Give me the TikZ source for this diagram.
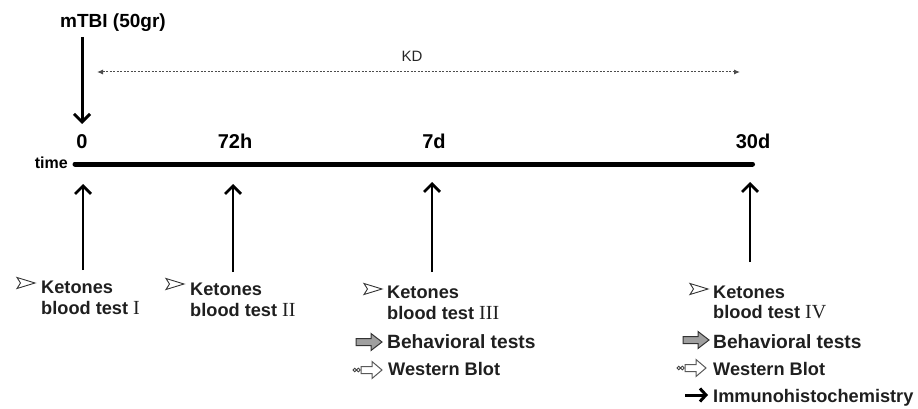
\documentclass[tikz,border=0pt]{standalone}
\usepackage{fontspec}
\setmainfont{Liberation Sans}
\newfontfamily\rmnum{Liberation Serif}
\usetikzlibrary{arrows.meta}
\newcommand{\rn}[1]{{\rmnum\mdseries\fontsize{20}{20}\selectfont #1}}
\begin{document}
\begin{tikzpicture}[x=1pt,y=-1pt,
  txt/.style={font=\fontsize{18.2}{18}\selectfont\bfseries, anchor=base west, inner sep=0pt, text=black!88},
  bigtxt/.style={font=\fontsize{19.2}{18}\selectfont\bfseries, anchor=base west, inner sep=0pt, text=black!88},
  tick/.style={font=\fontsize{20}{20}\selectfont\bfseries, anchor=base, inner sep=0pt},
  uparrow/.style={line width=2.8pt, -{Straight Barb[length=8pt,width=16pt]}},
  downarrow/.style={line width=3pt, -{Straight Barb[length=8pt,width=16pt]}},
  tri/.pic={\draw[line width=0.9pt, black!80, line join=miter] (0,-5.5)--(18,0)--(0,5.5)--(3.5,0)--cycle;},
  bharrow/.pic={\draw[fill=gray!75, draw=black!80, line width=1pt, line join=miter]
      (0,-3.5)--(15,-3.5)--(15,-8.5)--(26,0)--(15,8.5)--(15,3.5)--(0,3.5)--cycle;},
  wbarrow/.pic={\draw[black!75, line width=0.9pt] (1.8,0) circle (1.8) (5.4,0) circle (1.8);
      \draw[fill=white, draw=black!65, line width=1pt, line join=miter]
      (8,-3.5)--(19,-3.5)--(19,-8.5)--(29,0)--(19,8.5)--(19,3.5)--(8,3.5)--cycle;}
]
\useasboundingbox (0,0) rectangle (918,409);

% top label and impact arrow
\node[tick, font=\fontsize{19}{18}\selectfont\bfseries] (mtbi) at (113,28) {mTBI (50gr)};
\coordinate (ds) at (82,37);
\coordinate (de) at (82,124);
\draw[downarrow] (ds) -- (de);

% KD period
\node[anchor=base, inner sep=0pt, font=\fontsize{15}{15}\selectfont, text=black!85] (kd) at (412,62) {KD};
\coordinate (kdl) at (97,72);
\coordinate (kdr) at (740,72);
\draw[black!70, line width=1pt, dash pattern=on 2pt off 1.5pt,
  {Latex[length=6pt,width=5pt]}-{Latex[length=6pt,width=5pt]}] (kdl) -- (kdr);

% timeline
\node[anchor=base east, inner sep=0pt, font=\fontsize{16}{16}\selectfont\bfseries] (time) at (68,168) {time};
\coordinate (tl) at (75,164);
\coordinate (tr) at (755,164);
\draw[line width=5pt, line cap=round] (tl) -- ([xshift=-2.5pt]tr);

\node[tick] (t0) at (82,149) {0};
\node[tick] (t1) at (235,149) {72h};
\node[tick] (t2) at (434,149) {7d};
\node[tick] (t3) at (753,149) {30d};

% up arrows
\coordinate (u0s) at (83,270);  \coordinate (u0e) at (83,184);
\coordinate (u1s) at (233,272); \coordinate (u1e) at (233,184);
\coordinate (u2s) at (432,272); \coordinate (u2e) at (432,182);
\coordinate (u3s) at (750,262); \coordinate (u3e) at (750,182);
\draw[uparrow] (u0s) -- (u0e);
\draw[uparrow] (u1s) -- (u1e);
\draw[uparrow] (u2s) -- (u2e);
\draw[uparrow] (u3s) -- (u3e);

% column 1
\pic at (17,283) {tri};
\node[txt] (k1) at (41,293) {Ketones};
\node[txt] (b1) at (41,314) {blood test \rn{I}};

% column 2
\pic at (166,284) {tri};
\node[txt] (k2) at (190,295) {Ketones};
\node[txt] (b2) at (190,316) {blood test \rn{II}};

% column 3
\pic at (364,289) {tri};
\node[txt] (k3) at (387,298) {Ketones};
\node[txt] (b3) at (387,319) {blood test \rn{III}};
\pic at (356,342) {bharrow};
\node[bigtxt] (bh3) at (387,348) {Behavioral tests};
\pic at (353,370) {wbarrow};
\node[txt] (wb3) at (388,375) {Western Blot};

% column 4
\pic at (690,289) {tri};
\node[txt] (k4) at (713,298) {Ketones};
\node[txt] (b4) at (713,318) {blood test \rn{IV}};
\pic at (683,340) {bharrow};
\node[bigtxt] (bh4) at (713,348) {Behavioral tests};
\pic at (677,368) {wbarrow};
\node[txt] (wb4) at (713,375) {Western Blot};
\coordinate (ias) at (685,395);
\coordinate (iae) at (708,395);
\draw[line width=3pt, -{Straight Barb[length=6pt,width=13pt]}] (ias) -- (iae);
\node[txt] (ih4) at (713,402) {Immunohistochemistry};
\end{tikzpicture}
\end{document}
